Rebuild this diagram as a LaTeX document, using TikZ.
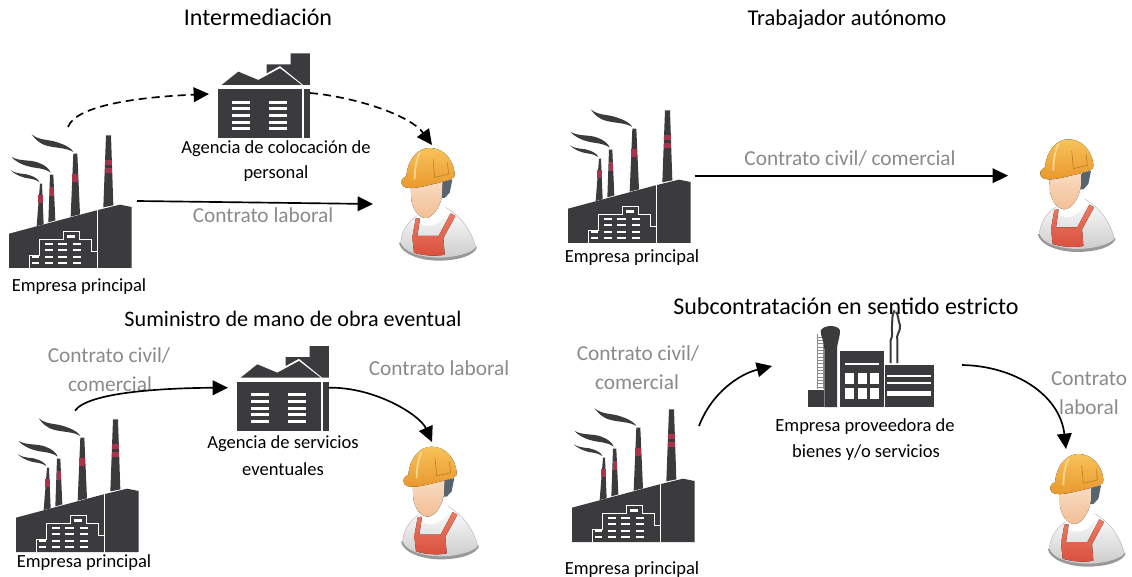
\documentclass[tikz,border=0pt]{standalone}
\usepackage{fontspec}
\setmainfont{Carlito}
\usetikzlibrary{arrows.meta}
\definecolor{ink}{HTML}{3B3B3D}
\definecolor{band}{HTML}{A8344A}
\definecolor{graytext}{HTML}{8A8A8A}
\definecolor{helmA}{HTML}{F7C25A}
\definecolor{helmB}{HTML}{E8962A}
\definecolor{skinA}{HTML}{F8DCC2}
\definecolor{skinB}{HTML}{F3BE95}
\definecolor{aprA}{HTML}{EC7A62}
\definecolor{aprB}{HTML}{D9513F}
\definecolor{hairc}{HTML}{56646F}
\tikzset{
  conn/.style={line width=1.25pt,-{Triangle[length=11.5pt,width=11pt]}},
  dashconn/.style={conn,dash pattern=on 6pt off 3.8pt},
  title/.style={anchor=mid,inner sep=0pt},
  lab/.style={font=\fontsize{13.9}{16}\selectfont,anchor=mid,inner sep=0pt},
  glab/.style={font=\fontsize{16}{18}\selectfont,text=graytext,anchor=mid,inner sep=0pt},
  factory/.pic={
    \begin{scope}[scale=0.33333,shift={(-27,-683)}]
      \fill[ink] (120,430)--(126,430)--(131,552)--(110,557)--cycle;
      \fill[ink] (150,403)--(160,403)--(166,540)--(145,546)--cycle;
      \fill[ink] (220,340)--(232,340)--(240,522)--(212,529)--cycle;
      \fill[ink] (318,285)--(333,285)--(340,495)--(310,501)--cycle;
      \fill[band] (114.5,465) rectangle (128,487);
      \fill[band] (149,440) rectangle (162,466);
      \fill[band] (217,400) rectangle (235,425);
      \fill[band] (314,358) rectangle (336,375);
      \fill[band] (314,382) rectangle (336,397);
      \fill[ink] (95,282) .. controls (120,302) and (145,296) .. (172,306) .. controls (200,315) and (215,325) .. (220,335) .. controls (200,322) and (170,324) .. (140,316) .. controls (118,310) and (105,296) .. (95,282) -- cycle;
      \fill[ink] (35,350) .. controls (60,364) and (90,357) .. (115,367) .. controls (135,374) and (148,385) .. (152,397) .. controls (132,382) and (110,385) .. (85,378) .. controls (62,372) and (45,362) .. (35,350) -- cycle;
      \fill[ink] (33,390) .. controls (55,404) and (75,398) .. (90,405) .. controls (105,410) and (115,417) .. (118,425) .. controls (100,413) and (85,416) .. (70,411) .. controls (52,405) and (40,398) .. (33,390) -- cycle;
      \fill[ink] (27,683)--(27,580)--(290,510)--(360,493)--(395,500)--(395,683)--cycle;
      \draw[white,line width=0.9pt] (293,510)--(293,683);
      \draw[white,line width=0.6pt] (88,683)--(88,645)--(118,645)--(118,597)--(190,597)--(190,573)--(237,573)--(237,597)--(273,597)--(273,632)--(290,632);
      \fill[white] (200,585) rectangle (225,592);
      \foreach \yy in {607,626,646,665}{
        \fill[white] (135,\yy) rectangle (158,\yy+7);
        \fill[white] (175,\yy) rectangle (200,\yy+7);
        \fill[white] (218,\yy) rectangle (243,\yy+7);
      }
      \fill[white] (95,646) rectangle (118,653);
      \fill[white] (95,665) rectangle (118,672);
    \end{scope}
  },
  agency/.pic={
    \begin{scope}[scale=0.33333,shift={(-145,-295)}]
      \fill[ink] (145,147) rectangle (397,295);
      \fill[ink] (403,147) rectangle (420,295);
      \fill[ink] (155,135)--(205,95)--(265,120)--(330,85)--(395,135)--cycle;
      \fill[ink] (290,100)--(290,73)--(362,73)--(362,40)--(420,40)--(420,135)--(400,135)--(330,78)--cycle;
      \foreach \yy in {182,202,222,242,262}{
        \fill[white] (187,\yy) rectangle (240,\yy+9);
        \fill[white] (297,\yy) rectangle (350,\yy+9);
      }
    \end{scope}
  },
  worker/.pic={
    \begin{scope}[scale=0.33333,shift={(-200,-28)}]
      \fill[black!40] (113,312) .. controls (118,345) and (175,366) .. (232,366) .. controls (290,366) and (342,350) .. (347,325) -- cycle;
      \shade[top color=white,bottom color=black!20] (118,310) .. controls (122,270) and (145,245) .. (172,228) -- (250,205) .. controls (290,225) and (330,270) .. (343,326) .. controls (330,345) and (270,358) .. (230,357) .. controls (170,355) and (125,338) .. (118,310) -- cycle;
      \draw[black!30,line width=0.3pt] (118,310) .. controls (122,270) and (145,245) .. (172,228) (250,205) .. controls (290,225) and (330,270) .. (343,326);
      \fill[white] (165,235) .. controls (180,275) and (230,270) .. (262,218) -- (250,203) -- (172,226) -- cycle;
      \fill[top color=aprA,bottom color=aprB] (163,240)--(176,238)--(168,292)--(232,292)--(268,224)--(282,232)--(246,298)--(250,348) .. controls (220,354) and (185,350) .. (158,342) -- (153,296) -- cycle;
      \fill[hairc] (238,131)--(273,122)--(265,162)--(250,178)--(240,178)--cycle;
      \fill[top color=skinA,bottom color=skinB] (148,140) -- (150,185) .. controls (155,212) and (170,236) .. (192,238) .. controls (215,238) and (236,205) .. (242,172) -- (244,125) -- cycle;
      \fill[top color=helmA,bottom color=helmB] (135,112) .. controls (140,60) and (170,28) .. (205,28) .. controls (245,28) and (275,60) .. (280,104) .. controls (285,118) and (265,125) .. (220,135) .. controls (180,145) and (140,155) .. (125,142) .. controls (115,130) and (122,118) .. (135,112) -- cycle;
      \draw[helmA!70!white,line width=1.4pt] (175,42) .. controls (165,65) and (160,90) .. (160,122);
      \draw[helmB!85!black,line width=0.5pt] (215,62) -- (220,116) -- (262,106) -- (258,72);
    \end{scope}
  },
  provider/.pic={
    \begin{scope}[scale=0.33333,shift={(-148,-260)}]
      \fill[ink] (148,208) rectangle (195,260);
      \draw[black!45,line width=0.6pt] (176,42)--(176,206) (193,32)--(193,206);
      \foreach \yy in {50,60,...,200}{\draw[black!45,line width=0.5pt] (176,\yy)--(193,\yy);}
      \fill[ink] (197,260)--(197,90) .. controls (197,60) and (186,50) .. (186,32) .. controls (190,15) and (235,10) .. (244,30) .. controls (244,55) and (235,65) .. (235,90) -- (235,260)--cycle;
      \fill[ink] (245,92) rectangle (377,260);
      \fill[ink] (380,133) rectangle (527,260);
      \fill[white] (260,129) rectangle (360,135);
      \foreach \xx in {260,297,333}{
        \fill[white] (\xx,158) rectangle (\xx+27,190);
        \fill[white] (\xx,203) rectangle (\xx+27,235);
      }
      \fill[white] (386,163) rectangle (517,169);
      \fill[white] (386,184) rectangle (517,190);
      \fill[white] (386,211) rectangle (517,226);
      \draw[ink,line width=1.5pt] (396,128)--(396,60) .. controls (404,45) and (398,30) .. (400,15) .. controls (402,0) and (398,-15) .. (408,-30);
      \draw[ink,line width=1.5pt] (416,128)--(416,60) .. controls (410,45) and (428,30) .. (424,15) .. controls (418,0) and (420,-15) .. (412,-25);
    \end{scope}
  }
}
\begin{document}
\begin{tikzpicture}[x=0.75pt,y=-0.75pt]
\useasboundingbox (0,0) rectangle (1132,577);
% images
\pic at (9,268) {factory};
\pic at (568,243) {factory};
\pic at (16,552) {factory};
\pic at (572,542) {factory};
\pic at (218.3,138.3) {agency};
\pic at (237.3,431) {agency};
\pic at (808,407) {provider};
\pic at (428,148) {worker};
\pic at (1066.7,139.3) {worker};
\pic at (430,446.7) {worker};
\pic at (1076.7,454) {worker};
% titles
\node[title,font=\fontsize{18}{20}\selectfont] (t1) at (258,22) {Intermediación};
\node[title,font=\fontsize{16.9}{20}\selectfont] (t2) at (847,22) {Trabajador autónomo};
\node[title,font=\fontsize{16.6}{20}\selectfont] (t3) at (293,323) {Suministro de mano de obra eventual};
\node[title,font=\fontsize{18}{20}\selectfont] (t4) at (846,311) {Subcontratación en sentido estricto};
% black labels
\node[lab] (e1) at (79,288) {Empresa principal};
\node[lab] (e2) at (632,259) {Empresa principal};
\node[lab] (e3) at (84,564) {Empresa principal};
\node[lab] (e4) at (632,571) {Empresa principal};
\node[lab] (ag1a) at (276,150) {Agencia de colocación de};
\node[lab] (ag1b) at (276,175) {personal};
\node[lab] (ag2a) at (283,445) {Agencia de servicios};
\node[lab] (ag2b) at (283,472) {eventuales};
\node[lab] (pr1) at (865,428) {Empresa proveedora de};
\node[lab] (pr2) at (866,454) {bienes y/o servicios};
% gray labels
\node[glab] (g1) at (263,219) {Contrato laboral};
\node[glab] (g2) at (850,162) {Contrato civil/ comercial};
\node[glab] (g3a) at (109,359) {Contrato civil/};
\node[glab] (g3b) at (110,388) {comercial};
\node[glab] (g4) at (439,372) {Contrato laboral};
\node[glab] (g5a) at (638,357) {Contrato civil/};
\node[glab] (g5b) at (637,386) {comercial};
\node[glab] (g6a) at (1089,382) {Contrato};
\node[glab] (g6b) at (1089,411) {laboral};
% connector ends
\coordinate (a1s) at (68,127); \coordinate (a1t) at (209,94);
\coordinate (a2s) at (310,93); \coordinate (a2t) at (432,145);
\coordinate (a3s) at (137,201); \coordinate (a3t) at (373,204);
\coordinate (a4s) at (695,175.7); \coordinate (a4t) at (1008,175.7);
\coordinate (a5s) at (75,410.7); \coordinate (a5t) at (228,387.7);
\coordinate (a6s) at (329,387.7); \coordinate (a6t) at (432,442);
\coordinate (a7s) at (699,426); \coordinate (a7t) at (772,366);
\coordinate (a8s) at (962,365); \coordinate (a8t) at (1066,449);
% connectors
\draw[dashconn] (a1s) .. controls (76,105) and (140,97) .. (a1t);
\draw[dashconn] (a2s) .. controls (355,97) and (410,115) .. (a2t);
\draw[conn] (a3s) -- (a3t);
\draw[conn] (a4s) -- (a4t);
\draw[conn] (a5s) .. controls (88,392) and (165,388) .. (a5t);
\draw[conn] (a6s) .. controls (375,387) and (420,415) .. (a6t);
\draw[conn] (a7s) .. controls (712,392) and (740,374) .. (a7t);
\draw[conn] (a8s) .. controls (1015,366) and (1060,395) .. (a8t);
\end{tikzpicture}
\end{document}
